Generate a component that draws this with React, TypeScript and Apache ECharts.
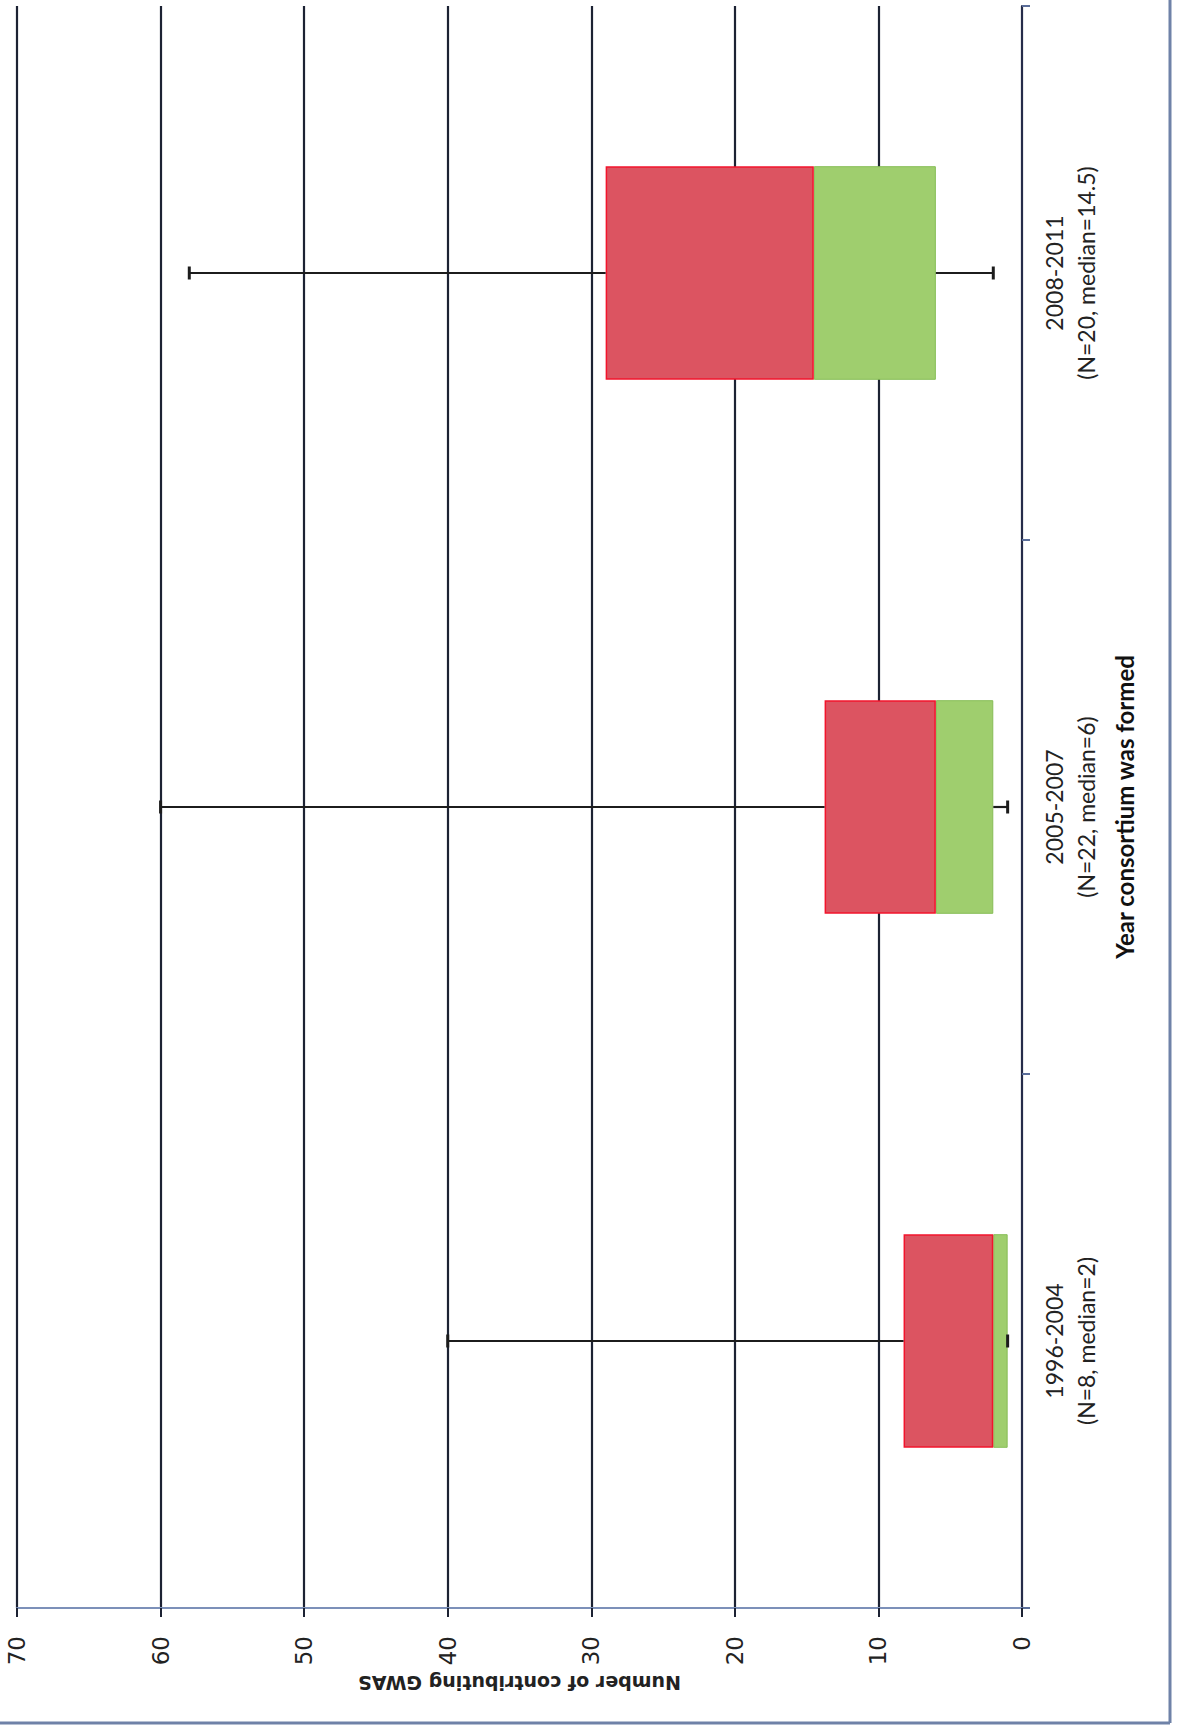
import React, { useEffect, useRef } from "react";
import * as echarts from "echarts";

// Consortium formation periods (bottom to top on the category axis)
const categories = [
  "1996-2004\n(N=8, median=2)",
  "2005-2007\n(N=22, median=6)",
  "2008-2011\n(N=20, median=14.5)",
];

// Five-number summaries of contributing GWAS per consortium
const minValues = [1, 1, 2];
const q1Values = [1, 2, 6];
const medianValues = [2, 6, 14.5];
const q3Values = [8.25, 13.75, 29];
const maxValues = [40, 60, 58];

const valueTicks = { min: 0, max: 70, interval: 10 };

const GRID_COLOR = "#1c2233";
const AXIS_BLUE = "#7c90b9";

export default function App() {
  const ref = useRef<HTMLDivElement>(null);

  useEffect(() => {
    document.body.style.margin = "0";
    const chart = echarts.init(ref.current!, null, { renderer: "svg" });

    const lowerBox = medianValues.map((m, i) => m - q1Values[i]);
    const upperBox = q3Values.map((q, i) => q - medianValues[i]);
    const whiskerData = categories.map((_, i) => [
      i,
      minValues[i],
      q1Values[i],
      q3Values[i],
      maxValues[i],
    ]);

    chart.setOption({
      animation: false,
      backgroundColor: "#ffffff",
      grid: { left: 17, right: 155, top: 6, bottom: 125, containLabel: false },
      xAxis: {
        type: "value",
        min: valueTicks.min,
        max: valueTicks.max,
        interval: valueTicks.interval,
        inverse: true,
        position: "bottom",
        name: "Number of contributing GWAS",
        nameLocation: "middle",
        nameRotate: 180,
        nameGap: 60,
        nameTextStyle: {
          fontFamily: "DejaVu Sans",
          fontWeight: "bold",
          fontSize: 19,
          color: "#222",
        },
        axisLine: { show: true, lineStyle: { color: AXIS_BLUE, width: 2 } },
        axisTick: { show: true, length: 9, lineStyle: { color: GRID_COLOR, width: 2 } },
        splitLine: { show: true, lineStyle: { color: GRID_COLOR, width: 2.2 } },
        axisLabel: {
          rotate: 90,
          margin: 28,
          fontFamily: "DejaVu Sans",
          fontSize: 23,
          color: "#222",
        },
      },
      yAxis: {
        type: "category",
        data: categories,
        position: "right",
        name: "Year consortium was formed",
        nameLocation: "middle",
        nameRotate: 90,
        nameGap: 90,
        nameTextStyle: {
          fontFamily: "Lato",
          fontWeight: "bold",
          fontSize: 24,
          color: "#111",
        },
        axisLine: { show: true, lineStyle: { color: "#262c4a", width: 2 } },
        axisTick: { show: true, length: 8, lineStyle: { color: "#5a6d99", width: 2 } },
        splitLine: { show: false },
        axisLabel: {
          rotate: 90,
          margin: 16,
          fontFamily: "Lato",
          fontSize: 23,
          lineHeight: 32,
          color: "#222",
        },
      },
      series: [
        {
          type: "bar",
          stack: "box",
          barWidth: "40%",
          itemStyle: { color: "transparent" },
          data: q1Values,
          silent: true,
        },
        {
          type: "bar",
          stack: "box",
          barWidth: "40%",
          itemStyle: { color: "#9fce6e", borderColor: "#86bd55", borderWidth: 1 },
          data: lowerBox,
        },
        {
          type: "bar",
          stack: "box",
          barWidth: "40%",
          itemStyle: { color: "#dc5461", borderColor: "#f2142c", borderWidth: 1.5 },
          data: upperBox,
        },
        {
          type: "custom",
          encode: { x: [1, 2, 3, 4], y: 0 },
          data: whiskerData,
          z: 5,
          renderItem: (params: any, api: any) => {
            const cat = api.value(0);
            const lo = api.coord([api.value(1), cat]);
            const q1 = api.coord([api.value(2), cat]);
            const q3 = api.coord([api.value(3), cat]);
            const hi = api.coord([api.value(4), cat]);
            const cap = 6.5;
            const style = { stroke: "#1c1c1c", lineWidth: 2.2 };
            return {
              type: "group",
              children: [
                { type: "line", shape: { x1: q3[0], y1: q3[1], x2: hi[0], y2: hi[1] }, style },
                { type: "line", shape: { x1: hi[0], y1: hi[1] - cap, x2: hi[0], y2: hi[1] + cap }, style: { ...style, lineWidth: 3 } },
                { type: "line", shape: { x1: q1[0], y1: q1[1], x2: lo[0], y2: lo[1] }, style },
                { type: "line", shape: { x1: lo[0], y1: lo[1] - cap, x2: lo[0], y2: lo[1] + cap }, style: { ...style, lineWidth: 3 } },
              ],
            };
          },
        },
      ],
      graphic: [
        {
          type: "line",
          shape: { x1: 1170, y1: 0, x2: 1170, y2: 1723 },
          style: { stroke: "#6f82a8", lineWidth: 3 },
        },
        {
          type: "line",
          shape: { x1: 0, y1: 1723, x2: 1170, y2: 1723 },
          style: { stroke: "#6f82a8", lineWidth: 3 },
        },
      ],
    });

    return () => chart.dispose();
  }, []);

  return <div ref={ref} style={{ width: 1177, height: 1733 }} />;
}
